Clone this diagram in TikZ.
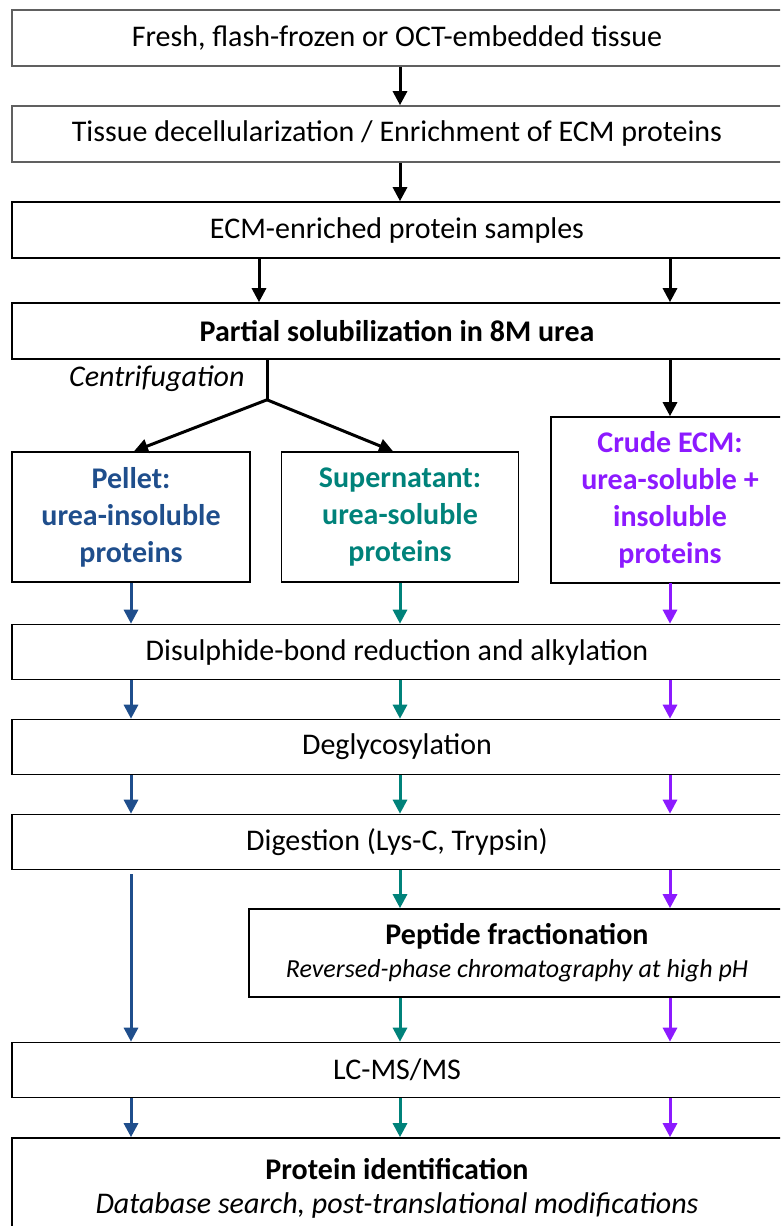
\documentclass[tikz,border=0pt]{standalone}
\usepackage{fontspec}
\setmainfont{Carlito}
\usetikzlibrary{arrows.meta}
\definecolor{pelletblue}{HTML}{1F4E8C}
\definecolor{superteal}{HTML}{00827A}
\definecolor{crudepurple}{HTML}{8C1AFF}
\definecolor{framegray}{HTML}{606060}
\tikzset{
  stepbox/.style={draw,line width=1.6pt,minimum width=770pt,minimum height=56pt,
    inner sep=0pt,align=center,font=\fontsize{30}{34}\selectfont},
  fractionbox/.style={stepbox,minimum width=238pt,minimum height=130pt,
    font=\fontsize{30}{37}\selectfont\bfseries},
  flow/.style={line width=3pt,-{Triangle[width=14pt,length=14pt]}},
}
\begin{document}
\begin{tikzpicture}[x=1pt,y=-1pt]
    \useasboundingbox (0,0) rectangle (780,1226);
    \clip (0,0) rectangle (780,1226);
    % column positions
    \coordinate (cA) at (131,0);
    \coordinate (cB) at (400,0);
    \coordinate (cC) at (670,0);
    \coordinate (cL) at (259,0);
    \coordinate (cS) at (267,0);
    % steps
    \node (fresh) [stepbox,draw=framegray] at (397,38) {Fresh, flash-frozen or OCT-embedded tissue};
    \node (decell) [stepbox,draw=framegray] at (397,134) {Tissue decellularization / Enrichment of ECM proteins};
    \node (samples) [stepbox] at (397,230) {ECM-enriched protein samples};
    \node (partial) [stepbox,font=\fontsize{30}{34}\selectfont\bfseries] at (397,331) {Partial solubilization in 8M urea};
    \node (centri) [anchor=east,font=\fontsize{30}{34}\selectfont\itshape] at (248,379) {Centrifugation};
    \node (pellet) [fractionbox,text=pelletblue] at (131,517) {Pellet:\\urea-insoluble\\proteins};
    \node (super) [fractionbox,minimum width=237pt,text=superteal] at (400,517) {Supernatant:\\urea-soluble\\proteins};
    \node (crude) [fractionbox,minimum height=166pt,text=crudepurple] at (670,500) {Crude ECM:\\urea-soluble +\\insoluble\\proteins};
    \node (disul) [stepbox,minimum height=55pt] at (397,652) {Disulphide-bond reduction and alkylation};
    \node (deglyc) [stepbox,minimum height=55pt] at (397,747) {Deglycosylation};
    \node (digest) [stepbox,minimum height=55pt] at (397,842) {Digestion (Lys-C, Trypsin)};
    \node (pepfrac) [stepbox,minimum width=536pt,minimum height=88pt] at (517,953)
        {\textbf{Peptide fractionation}\\[-1pt]{\fontsize{26}{34}\selectfont\itshape Reversed-phase chromatography at high pH}};
    \node (lcms) [stepbox,minimum height=55pt] at (397,1070) {LC-MS/MS};
    \node (protid) [stepbox,minimum height=100pt] at (397,1188)
        {\textbf{Protein identification}\\\textit{Database search, post-translational modifications}};
    % black connectors
    \draw [flow] (fresh.south -| cB) -- (decell.north -| cB);
    \draw [flow] (decell.south -| cB) -- (samples.north -| cB);
    \draw [flow] (samples.south -| cL) -- (partial.north -| cL);
    \draw [flow] (samples.south -| cC) -- (partial.north -| cC);
    \draw [line width=3pt] (partial.south -| cS) -- ++(0,40) coordinate (split);
    \draw [flow] (split) -- ([xshift=3pt]pellet.north);
    \draw [flow] (split) -- ([xshift=-7pt]super.north);
    \draw [flow] (partial.south -| cC) -- (crude.north);
    % coloured connectors
    \foreach \col/\clr in {cA/pelletblue,cB/superteal,cC/crudepurple}{
        \draw [flow,\clr] (\col |- pellet.south) -- (\col |- disul.north);
        \draw [flow,\clr] (\col |- disul.south) -- (\col |- deglyc.north);
        \draw [flow,\clr] (\col |- deglyc.south) -- (\col |- digest.north);
        \draw [flow,\clr] (\col |- lcms.south) -- (\col |- protid.north);
    }
    \foreach \col/\clr in {cB/superteal,cC/crudepurple}{
        \draw [flow,\clr] (\col |- digest.south) -- (\col |- pepfrac.north);
        \draw [flow,\clr] (\col |- pepfrac.south) -- (\col |- lcms.north);
    }
    \draw [flow,pelletblue,shorten <=4pt] (cA |- digest.south) -- (cA |- lcms.north);
\end{tikzpicture}
\end{document}
